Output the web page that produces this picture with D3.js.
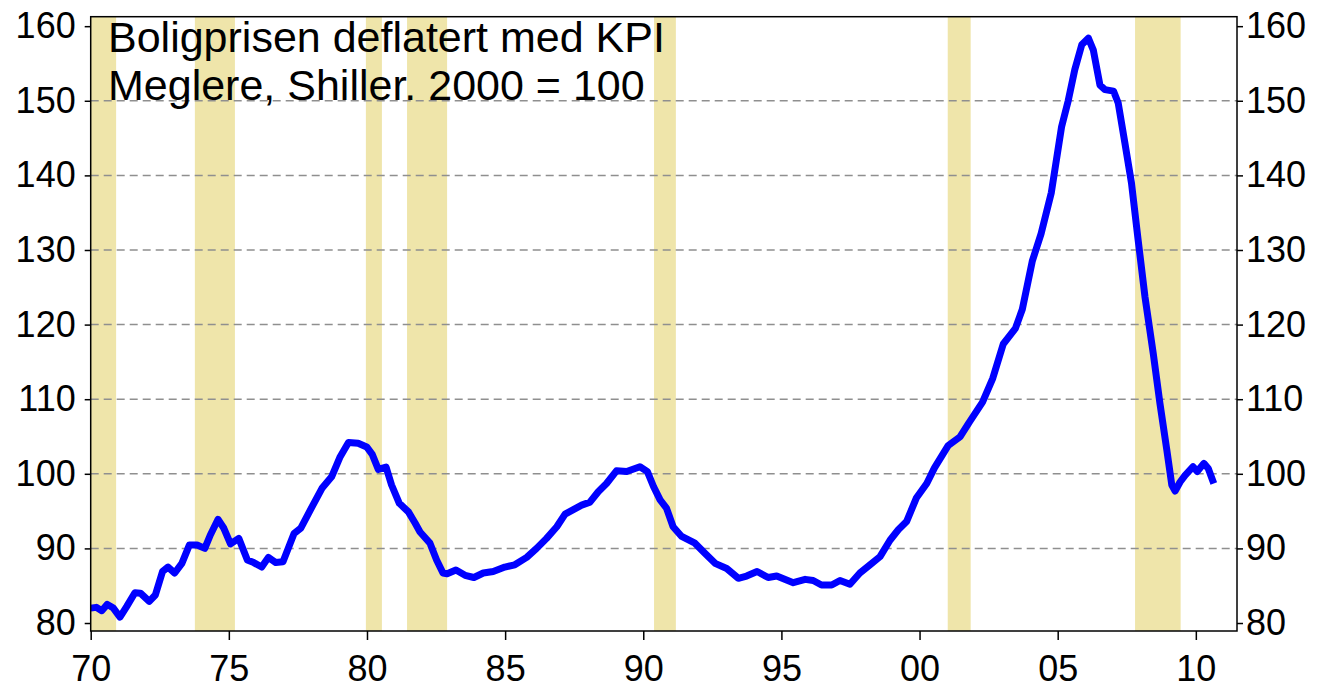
<!DOCTYPE html>
<html>
<head>
<meta charset="utf-8">
<script src="https://cdn.jsdelivr.net/npm/d3@7"></script>
<style>
  html, body { margin: 0; padding: 0; background: #fff; }
  svg { display: block; font-family: "Liberation Sans", Arial, sans-serif; }
</style>
</head>
<body>
<svg id="chart" width="1335" height="695"></svg>
<script>
// ---- data ----
const titleLines = ["Boligprisen deflatert med KPI", "Meglere, Shiller. 2000 = 100"];

const dates = [
  1970.00,1970.20,1970.40,1970.60,1970.82,1971.06,1971.30,1971.60,1971.80,1972.12,
  1972.34,1972.60,1972.80,1973.04,1973.30,1973.57,1973.85,1974.13,1974.33,1974.61,
  1974.82,1975.06,1975.36,1975.67,1975.90,1976.19,1976.43,1976.70,1976.96,1977.36,
  1977.60,1978.00,1978.37,1978.72,1979.03,1979.33,1979.68,1979.99,1980.19,1980.41,
  1980.69,1980.89,1981.17,1981.50,1981.74,1981.92,1982.28,1982.52,1982.75,1982.90,
  1983.22,1983.55,1983.87,1984.21,1984.57,1984.99,1985.35,1985.78,1986.14,1986.50,
  1986.87,1987.17,1987.47,1987.77,1988.07,1988.37,1988.67,1989.03,1989.40,1989.88,
  1990.15,1990.37,1990.61,1990.84,1991.08,1991.39,1991.87,1992.23,1992.60,1993.02,
  1993.44,1993.74,1994.12,1994.52,1994.83,1995.43,1995.86,1996.15,1996.45,1996.82,
  1997.12,1997.48,1997.84,1998.21,1998.57,1998.93,1999.23,1999.53,1999.89,2000.26,
  2000.54,2001.04,2001.47,2001.78,2002.28,2002.65,2003.03,2003.47,2003.72,2004.08,
  2004.40,2004.77,2005.14,2005.38,2005.62,2005.87,2006.11,2006.29,2006.53,2006.71,
  2007.02,2007.19,2007.43,2007.67,2007.91,2008.16,2008.46,2008.70,2008.95,2009.13,
  2009.25,2009.43,2009.61,2009.90,2010.05,2010.29,2010.45,2010.65
];
const prices = [
  82.0,82.1,81.65,82.5,82.0,80.8,82.2,84.05,84.0,82.9,
  83.75,86.9,87.5,86.7,88.0,90.45,90.45,90.0,91.8,93.9,
  92.7,90.6,91.35,88.45,88.1,87.5,88.8,88.1,88.2,92.0,
  92.7,95.5,98.05,99.6,102.3,104.2,104.1,103.6,102.6,100.6,
  100.9,98.5,96.05,94.9,93.4,92.2,90.7,88.45,86.7,86.6,
  87.1,86.4,86.1,86.7,86.9,87.5,87.8,88.8,90.0,91.35,
  92.9,94.6,95.2,95.8,96.2,97.6,98.7,100.4,100.3,100.95,
  100.3,98.3,96.5,95.4,92.9,91.6,90.7,89.35,88.0,87.3,
  86.0,86.3,86.9,86.1,86.3,85.4,85.85,85.7,85.1,85.1,
  85.7,85.2,86.7,87.8,88.9,91.1,92.5,93.6,96.8,98.7,
  100.8,103.8,104.97,106.8,109.6,112.8,117.4,119.5,122.05,128.5,
  132.2,137.7,146.5,150.0,154.2,157.5,158.4,156.8,152.1,151.5,
  151.3,149.7,144.4,139.0,131.4,123.7,116.1,109.45,103.2,98.5,
  97.7,98.9,99.8,100.95,100.3,101.4,100.7,98.7
];

// recession periods (start, end) in decimal years
const recessionStarts = [1969.9, 1973.77, 1979.96, 1981.45, 1990.39, 2001.02, 2007.8];
const recessionEnds   = [1970.92, 1975.22, 1980.54, 1982.9, 1991.18, 2001.85, 2009.45];

const xTickValues = [1970, 1975, 1980, 1985, 1990, 1995, 2000, 2005, 2010];
const xTickLabels = ["70", "75", "80", "85", "90", "95", "00", "05", "10"];
const yTickValues = [80, 90, 100, 110, 120, 130, 140, 150, 160];
const gridValues  = [90, 100, 110, 120, 130, 140, 150];

// ---- layout ----
const svg = d3.select("#chart");
const pLeft = 90.7, pRight = 1237, pTop = 16.7, pBottom = 631;

const x = d3.scaleLinear().domain([1970, 2011.49]).range([pLeft, pRight]);
const y = d3.scaleLinear().domain([78.93, 161.27]).range([pBottom, pTop]);

const clipId = "plotclip";
svg.append("defs").append("clipPath").attr("id", clipId)
  .append("rect").attr("x", pLeft).attr("y", pTop).attr("width", pRight - pLeft).attr("height", pBottom - pTop);

const plot = svg.append("g").attr("clip-path", `url(#${clipId})`);

// recession bands
plot.selectAll("rect.rec")
  .data(recessionStarts.map((s, i) => [s, recessionEnds[i]]))
  .enter().append("rect")
  .attr("class", "rec")
  .attr("x", d => x(d[0]))
  .attr("width", d => x(d[1]) - x(d[0]))
  .attr("y", pTop)
  .attr("height", pBottom - pTop)
  .attr("fill", "#EFE5AA");

// grid lines
plot.selectAll("line.grid")
  .data(gridValues)
  .enter().append("line")
  .attr("x1", pLeft).attr("x2", pRight)
  .attr("y1", d => y(d)).attr("y2", d => y(d))
  .attr("stroke", "#8f8f8f")
  .attr("stroke-width", 1.5)
  .attr("stroke-dasharray", "8,5");

// title
const title = svg.append("text")
  .attr("x", 108)
  .attr("font-size", 43)
  .attr("fill", "#000");
titleLines.forEach((t, i) => {
  title.append("tspan").attr("x", 108).attr("y", 52 + i * 48).text(t);
});

// line
const line = d3.line()
  .x((d, i) => x(dates[i]))
  .y(d => y(d))
  .curve(d3.curveLinear);

plot.append("path")
  .datum(prices)
  .attr("d", line)
  .attr("fill", "none")
  .attr("stroke", "#0000FF")
  .attr("stroke-width", 7)
  .attr("stroke-linejoin", "round")
  .attr("stroke-linecap", "butt");

// frame
svg.append("rect")
  .attr("x", pLeft).attr("y", pTop)
  .attr("width", pRight - pLeft).attr("height", pBottom - pTop)
  .attr("fill", "none").attr("stroke", "#000").attr("stroke-width", 1.5);

// axes
const fontSize = 36;
const xAxis = d3.axisBottom(x).tickValues(xTickValues)
  .tickFormat((d, i) => xTickLabels[i]).tickSize(9).tickPadding(15);
const gx = svg.append("g").attr("transform", `translate(0,${pBottom})`).call(xAxis);

const yAxisL = d3.axisLeft(y).tickValues(yTickValues).tickFormat(d3.format("d")).tickSize(6).tickPadding(9);
const gyl = svg.append("g").attr("transform", `translate(${pLeft},0)`).call(yAxisL);

const yAxisR = d3.axisRight(y).tickValues(yTickValues).tickFormat(d3.format("d")).tickSize(6).tickPadding(3);
const gyr = svg.append("g").attr("transform", `translate(${pRight},0)`).call(yAxisR);

[gx, gyl, gyr].forEach(g => {
  g.select(".domain").remove();
  g.selectAll(".tick line").attr("stroke", "#000").attr("stroke-width", 1.5);
  g.selectAll(".tick text")
    .attr("font-size", fontSize)
    .attr("font-family", "'Liberation Sans', Arial, sans-serif")
    .attr("fill", "#000");
});
</script>
</body>
</html>
